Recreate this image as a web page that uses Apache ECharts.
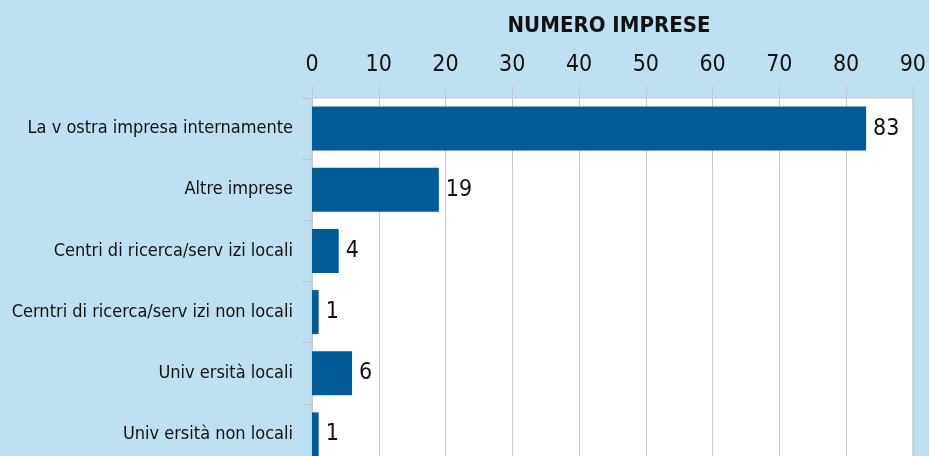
<!DOCTYPE html>
<html>
<head>
<meta charset="utf-8">
<script src="https://cdn.jsdelivr.net/npm/echarts@6/dist/echarts.min.js"></script>
<style>
html,body{margin:0;padding:0;background:#bee0f3;overflow:hidden;width:929px;height:456px;}
#c{width:929px;height:466px;}
</style>
</head>
<body>
<div id="c"></div>
<script>
const categories = [
  "La v ostra impresa internamente",
  "Altre imprese",
  "Centri di ricerca/serv izi locali",
  "Cerntri di ricerca/serv izi non locali",
  "Univ ersità locali",
  "Univ ersità non locali"
];
const values = [83, 19, 4, 1, 6, 1];
const xTicks = [0, 10, 20, 30, 40, 50, 60, 70, 80, 90];
const titleText = "NUMERO IMPRESE";

const font = '"Liberation Sans Narrow", "DejaVu Sans Condensed", "Liberation Sans", sans-serif';
const chart = echarts.init(document.getElementById('c'), null, {renderer: 'canvas'});
chart.setOption({
  backgroundColor: '#bee0f3',
  animation: false,
  title: {
    text: titleText,
    left: 604, top: 10, textAlign: 'center',
    textStyle: {fontFamily: font, fontWeight: 'bold', fontSize: 22, color: '#111'}
  },
  grid: {left: 312, top: 98, width: 601, height: 367, containLabel: false,
         show: true, backgroundColor: '#ffffff', borderColor: '#c8c8c8', borderWidth: 1},
  xAxis: {
    type: 'value', position: 'top', min: xTicks[0], max: xTicks[xTicks.length-1], interval: 10,
    axisLine: {show: false},
    axisTick: {show: true, length: 11, lineStyle: {color: '#c8c8c8', width: 1}},
    splitLine: {show: true, lineStyle: {color: '#c8c8c8', width: 1}},
    axisLabel: {fontFamily: font, fontSize: 23, color: '#111', margin: 21}
  },
  yAxis: {
    type: 'category', inverse: true, data: categories,
    axisLine: {show: true, lineStyle: {color: '#c8c8c8'}},
    axisTick: {show: true, length: 10, lineStyle: {color: '#c8c8c8'}},
    axisLabel: {fontFamily: font, fontSize: 18, color: '#111', margin: 19}
  },
  series: [{
    type: 'bar', data: values, barWidth: 44,
    itemStyle: {color: '#005b96'},
    label: {show: true, position: 'right', distance: 7, fontFamily: font, fontSize: 23, color: '#111'}
  }]
});
</script>
</body>
</html>
